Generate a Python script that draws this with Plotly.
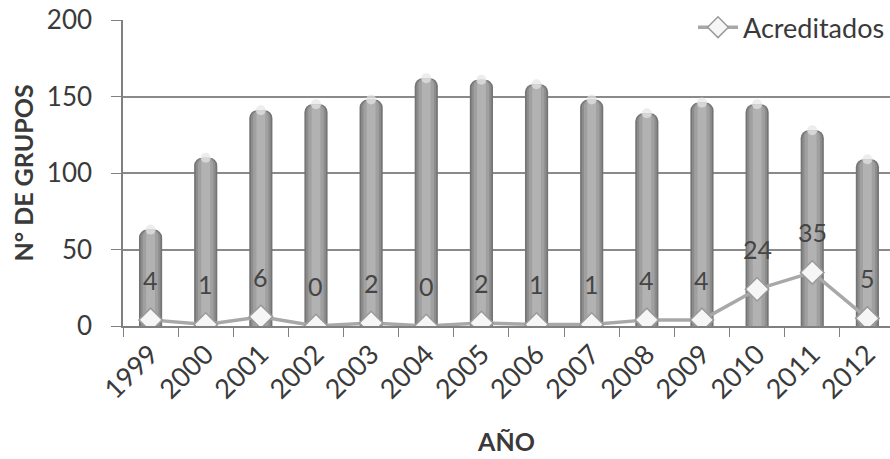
import plotly.graph_objects as go

years = ["1999", "2000", "2001", "2002", "2003", "2004", "2005",
         "2006", "2007", "2008", "2009", "2010", "2011", "2012"]
grupos = [63, 110, 141, 145, 148, 162, 161, 158, 148, 139, 146, 145, 128, 109]
acreditados = [4, 1, 6, 0, 2, 0, 2, 1, 1, 4, 4, 24, 35, 5]

FONT = "Lato, 'Open Sans', sans-serif"
TXT = "#3a3a3a"

fig = go.Figure()

# cylinder-like bars: stacked layers of narrowing, lighter gray
layers = [(0.42, "#747474"), (0.36, "#8c8c8c"), (0.28, "#a0a0a0"), (0.16, "#b2b2b2")]
for w, c in layers:
    fig.add_trace(go.Bar(
        x=years, y=grupos, width=w, marker=dict(color=c, line=dict(width=0)),
        showlegend=False, hoverinfo="skip"))

# light cap on top of each cylinder
fig.add_trace(go.Scatter(
    x=years, y=grupos, mode="markers", showlegend=False, hoverinfo="skip",
    marker=dict(symbol="circle", size=[10] * len(years), color="#e6e6e6",
                line=dict(width=0)),
))

fig.add_trace(go.Scatter(
    x=years, y=acreditados, mode="lines+markers", name="Acreditados",
    line=dict(color="#a8a8a8", width=3.5),
    marker=dict(symbol="diamond", size=18, color="#f6f6f6",
                line=dict(color="#9a9a9a", width=1.5)),
))

for i, v in enumerate(acreditados):
    fig.add_annotation(x=i, y=v, text=str(v), showarrow=False, yshift=40,
                       font=dict(family=FONT, size=25, color="#454545"))

fig.update_layout(
    width=890, height=459,
    margin=dict(l=123, r=0, t=20, b=133),
    paper_bgcolor="white", plot_bgcolor="white",
    barmode="overlay", barcornerradius=8,
    font=dict(family=FONT, color=TXT),
    legend=dict(x=1, y=0.975, xanchor="right", yanchor="middle",
                bgcolor="rgba(0,0,0,0)", font=dict(size=27, color=TXT),
                itemwidth=40),
    showlegend=True,
)

fig.update_xaxes(
    type="category", range=[-0.5, 13.41], tickson="boundaries",
    ticks="outside", ticklen=9, tickcolor="#808080",
    tickangle=-45, tickfont=dict(size=27, color=TXT),
    showline=True, linecolor="#808080", linewidth=1.5, showgrid=False,
    title=dict(text="<b>AÑO</b>", font=dict(size=25, color=TXT), standoff=30),
)
fig.update_yaxes(
    range=[0, 200], tickvals=[0, 50, 100, 150, 200],
    ticks="outside", ticklen=10, tickcolor="#808080", ticklabelstandoff=14,
    tickfont=dict(size=26, color=TXT),
    showline=True, linecolor="#808080", linewidth=1.5,
    showgrid=True, gridcolor="#8a8a8a", gridwidth=1.5, zeroline=False,
    title=dict(text="<b>N° DE GRUPOS</b>", font=dict(size=25, color=TXT), standoff=6),
)

fig.write_html("out.html")
